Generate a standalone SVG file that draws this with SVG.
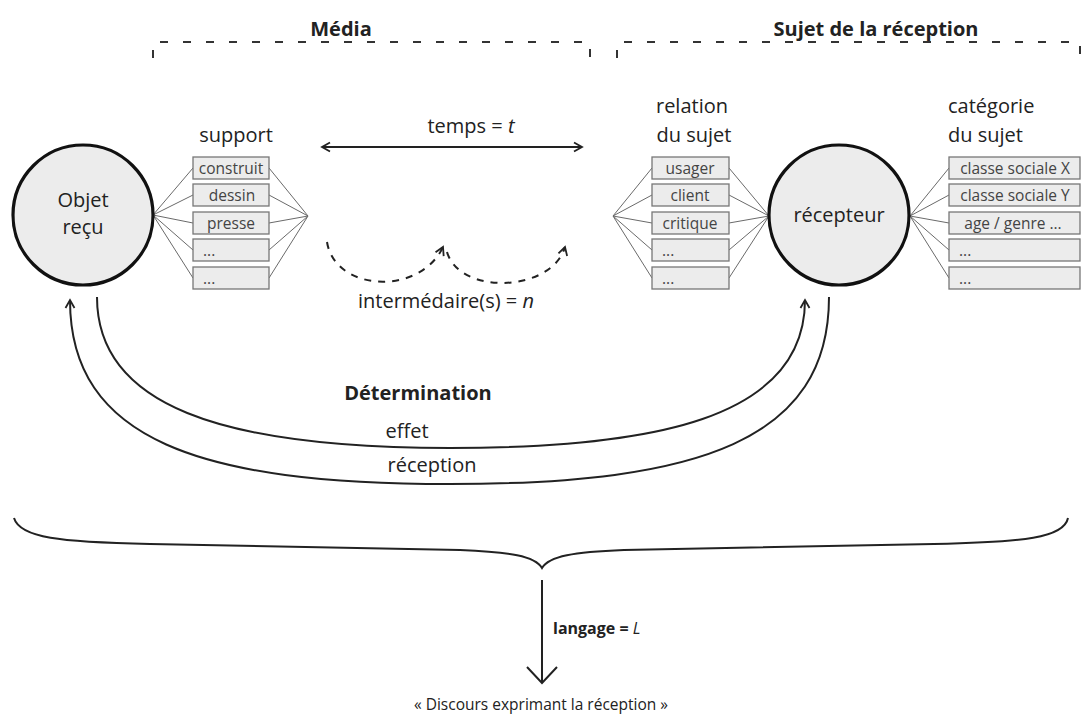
<svg xmlns="http://www.w3.org/2000/svg" width="1084" height="716" viewBox="0 0 1084 716">
<defs>
<style>
text{font-family:"Open Sans","Noto Sans",sans-serif;fill:#222}
.lbl{font-size:20px}
.b{font-weight:bold}
.bx{fill:#ececec;stroke:#777;stroke-width:1.3}
.bt{font-size:15.5px;fill:#444}
.ln{stroke:#6a6a6a;stroke-width:1;fill:none}
.circ{fill:#ececec;stroke:#111;stroke-width:3.2}
.dash{stroke:#333;stroke-width:2;fill:none;stroke-dasharray:8 15}
.darc{stroke:#222;stroke-width:2;fill:none;stroke-dasharray:7 7}
.cur{stroke:#222;stroke-width:2;fill:none}
</style>
<marker id="arr" viewBox="0 0 12 12" refX="10" refY="6" markerWidth="12" markerHeight="12" markerUnits="userSpaceOnUse" orient="auto-start-reverse">
<path d="M2,1.5 L10,6 L2,10.5" fill="none" stroke="#222" stroke-width="1.8" stroke-dasharray="none"/>
</marker>
</defs>

<g id="brackets">
<path class="dash" d="M153,58 L153,42 L590,42 L590,58"/>
<path class="dash" d="M617,58 L617,42 L1080,42 L1080,58"/>
<text class="lbl b" x="341" y="36" text-anchor="middle">Média</text>
<text class="lbl b" x="876" y="36" text-anchor="middle">Sujet de la réception</text>
</g>

<g id="connectors">
<path class="ln" d="M153,215 L193,168 M153,215 L193,195 M153,215 L193,223 M153,215 L193,250 M153,215 L193,278"/>
<path class="ln" d="M269,168 L308,216 M269,195 L308,216 M269,223 L308,216 M269,250 L308,216 M269,278 L308,216"/>
<path class="ln" d="M613,216 L652,168 M613,216 L652,195 M613,216 L652,223 M613,216 L652,250 M613,216 L652,278"/>
<path class="ln" d="M729,168 L769,216 M729,195 L769,216 M729,223 L769,216 M729,250 L769,216 M729,278 L769,216"/>
<path class="ln" d="M910,216 L949,168 M910,216 L949,195 M910,216 L949,223 M910,216 L949,250 M910,216 L949,278"/>
<path class="cur" d="M322,147 L582,147" stroke-width="1.6" marker-start="url(#arr)" marker-end="url(#arr)"/>
<path class="darc" d="M327,242 C335,292 420,296 443,247" marker-end="url(#arr)"/>
<path class="darc" d="M447,252 C460,296 552,292 565,247" marker-end="url(#arr)"/>
<path class="cur" d="M97,297 C97,405 220,448 450,448 C650,448 805,420 805,300" marker-end="url(#arr)"/>
<path class="cur" d="M829,297 C829,440 700,484 450,484 C200,484 70,440 70,300" marker-end="url(#arr)"/>
<path class="cur" d="M14,518 C20,538 60,542 150,544 L460,550 C510,552 535,556 542,568 C549,556 574,552 624,550 L934,544 C1024,542 1064,538 1068,518" stroke-width="2"/>
<path class="cur" d="M542,580 L542,682 M527,667 L542,683 L557,667" stroke-width="2.6"/>
</g>

<g id="labels">
<text class="lbl" x="471" y="133" text-anchor="middle">temps = <tspan font-style="italic">t</tspan></text>
<text class="lbl" x="446" y="308" text-anchor="middle">intermédaire(s) = <tspan font-style="italic">n</tspan></text>
<text class="lbl b" x="418" y="400" text-anchor="middle">Détermination</text>
<text class="lbl" x="407" y="438" text-anchor="middle">effet</text>
<text class="lbl" x="432" y="472" text-anchor="middle">réception</text>
<text class="b" x="553" y="634" font-size="16">langage = <tspan font-style="italic" font-weight="normal">L</tspan></text>
<text x="541" y="710" font-size="15.5" text-anchor="middle">« Discours exprimant la réception »</text>
</g>

<g id="objet">
<circle class="circ" cx="83" cy="215" r="70"/>
<text class="lbl" x="83" y="207" text-anchor="middle" font-size="21">Objet</text>
<text class="lbl" x="83" y="234" text-anchor="middle" font-size="21">reçu</text>
</g>

<g id="support">
<text class="lbl" x="236" y="142" text-anchor="middle">support</text>
<rect class="bx" x="193" y="157" width="76" height="22"/>
<rect class="bx" x="193" y="184" width="76" height="22"/>
<rect class="bx" x="193" y="212" width="76" height="22"/>
<rect class="bx" x="193" y="239" width="76" height="22"/>
<rect class="bx" x="193" y="267" width="76" height="22"/>
<text class="bt" x="231" y="174" text-anchor="middle">construit</text>
<text class="bt" x="232" y="201" text-anchor="middle">dessin</text>
<text class="bt" x="231" y="229" text-anchor="middle">presse</text>
<text class="bt" x="203" y="256">...</text>
<text class="bt" x="203" y="284">...</text>
</g>

<g id="relation">
<text class="lbl" x="692" y="113" text-anchor="middle">relation</text>
<text class="lbl" x="694" y="142" text-anchor="middle">du sujet</text>
<rect class="bx" x="652" y="157" width="77" height="22"/>
<rect class="bx" x="652" y="184" width="77" height="22"/>
<rect class="bx" x="652" y="212" width="77" height="22"/>
<rect class="bx" x="652" y="239" width="77" height="22"/>
<rect class="bx" x="652" y="267" width="77" height="22"/>
<text class="bt" x="690" y="174" text-anchor="middle">usager</text>
<text class="bt" x="690" y="201" text-anchor="middle">client</text>
<text class="bt" x="690" y="229" text-anchor="middle">critique</text>
<text class="bt" x="662" y="256">...</text>
<text class="bt" x="662" y="284">...</text>
</g>

<g id="recepteur">
<circle class="circ" cx="839" cy="215" r="70"/>
<text class="lbl" x="839" y="222" text-anchor="middle" font-size="21">récepteur</text>
</g>

<g id="categorie">
<text class="lbl" x="948" y="113">catégorie</text>
<text class="lbl" x="948" y="142">du sujet</text>
<rect class="bx" x="949" y="157" width="131" height="22"/>
<rect class="bx" x="949" y="184" width="131" height="22"/>
<rect class="bx" x="949" y="212" width="131" height="22"/>
<rect class="bx" x="949" y="239" width="131" height="22"/>
<rect class="bx" x="949" y="267" width="131" height="22"/>
<text class="bt" x="1015" y="174" text-anchor="middle">classe sociale X</text>
<text class="bt" x="1015" y="201" text-anchor="middle">classe sociale Y</text>
<text class="bt" x="1013" y="229" text-anchor="middle">age / genre ...</text>
<text class="bt" x="959" y="256">...</text>
<text class="bt" x="959" y="284">...</text>
</g>
</svg>
